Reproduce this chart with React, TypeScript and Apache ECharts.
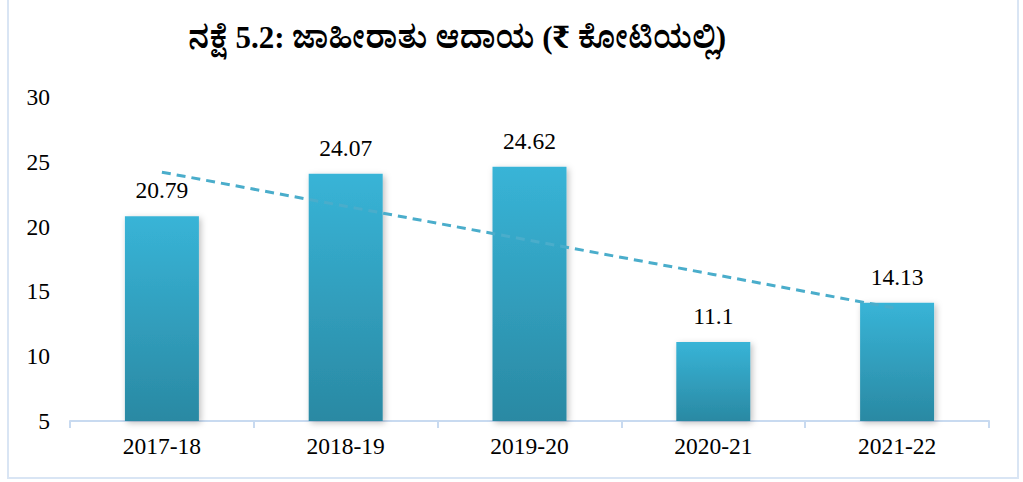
import React, { useEffect, useRef } from "react";
import * as echarts from "echarts";

const categories = ["2017-18", "2018-19", "2019-20", "2020-21", "2021-22"];
const revenue = [20.79, 24.07, 24.62, 11.1, 14.13];
const trend = [24.2, 21.57, 18.94, 16.31, 13.68];
const yTicks = { min: 5, max: 30, interval: 5 };
const titleText = "ನಕ್ಷೆ 5.2: ಜಾಹೀರಾತು ಆದಾಯ (₹ ಕೋಟಿಯಲ್ಲಿ)";

const serif = "'Liberation Serif', 'Times New Roman', serif";
const kannada = "'Liberation Serif', 'Noto Serif Kannada', 'Noto Sans Kannada', serif";

export default function App() {
  const ref = useRef<HTMLDivElement>(null);
  useEffect(() => {
    document.body.style.margin = "0";
    const chart = echarts.init(ref.current!, null, { renderer: "svg" });
    chart.setOption({
      animation: false,
      backgroundColor: "#ffffff",
      title: {
        text: titleText,
        left: 452,
        top: 17,
        textAlign: "center",
        textStyle: { fontFamily: kannada, fontSize: 31, fontWeight: "bold", color: "#000" },
      },
      graphic: [
        {
          type: "rect",
          shape: { x: 8, y: -4, width: 1010, height: 482 },
          style: { fill: "none", stroke: "#d9e5f4", lineWidth: 2 },
          silent: true,
        },
      ],
      grid: { left: 70, right: 34, top: 97, bottom: 61 },
      xAxis: {
        type: "category",
        data: categories,
        axisLine: { lineStyle: { color: "#c8daf0", width: 2 } },
        axisTick: { show: true, length: 7, lineStyle: { color: "#c8daf0", width: 2 } },
        axisLabel: { fontFamily: serif, fontSize: 23.5, color: "#000", margin: 13 },
      },
      yAxis: {
        type: "value",
        min: yTicks.min,
        max: yTicks.max,
        interval: yTicks.interval,
        axisLine: { show: false },
        axisTick: { show: false },
        splitLine: { show: false },
        axisLabel: { fontFamily: serif, fontSize: 23.5, color: "#000", margin: 20 },
      },
      series: [
        {
          type: "bar",
          data: revenue,
          barWidth: 74,
          itemStyle: {
            color: new echarts.graphic.LinearGradient(0, 0, 0, 1, [
              { offset: 0, color: "#38b4d7" },
              { offset: 1, color: "#2a89a3" },
            ]),
            shadowColor: "rgba(0,0,0,0.25)",
            shadowBlur: 6,
            shadowOffsetX: 2,
            shadowOffsetY: 2,
          },
          label: {
            show: true,
            position: "top",
            distance: 14,
            fontFamily: serif,
            fontSize: 23.5,
            color: "#000",
          },
          z: 2,
        },
        {
          type: "line",
          data: trend,
          symbol: "none",
          lineStyle: { color: "#4aadcb", width: 3, type: [9, 6] },
          z: 3,
        },
      ],
    });
    return () => chart.dispose();
  }, []);
  return <div ref={ref} style={{ width: 1023, height: 482 }} />;
}
